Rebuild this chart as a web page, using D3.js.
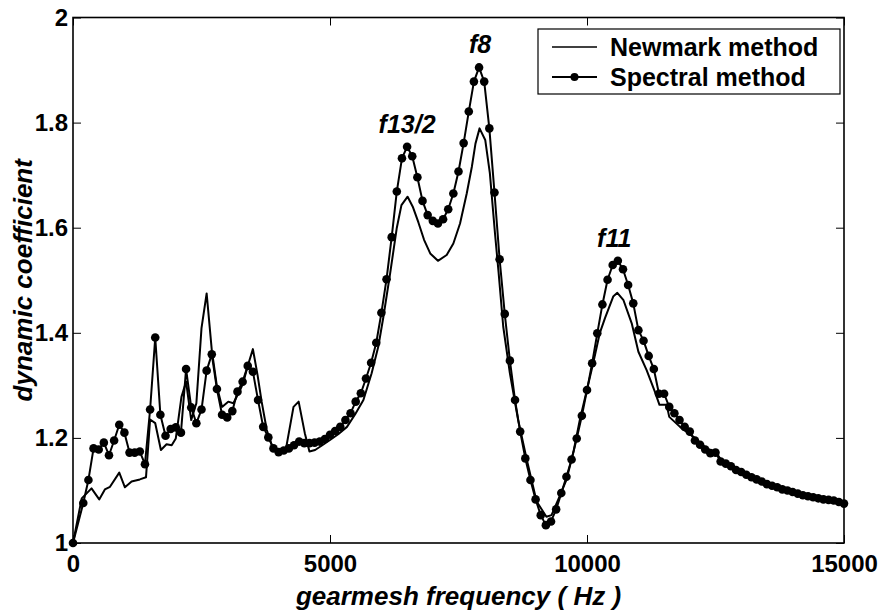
<!DOCTYPE html>
<meta charset="utf-8">
<body style="margin:0;background:#fff">
  <div id="chart"></div>
  <script src="https://d3js.org/d3.v7.min.js"></script>
  <script>
    // Spectral method (markers, 100 Hz grid)
    var specHz = [0, 200, 300, 400, 500, 600, 700, 800, 900, 1000,
      1100, 1200, 1300, 1400, 1500, 1600, 1700, 1800, 1900, 2000,
      2100, 2200, 2300, 2400, 2500, 2600, 2700, 2800, 2900, 3000,
      3100, 3200, 3300, 3400, 3500, 3600, 3700, 3800, 3900, 4000,
      4100, 4200, 4300, 4400, 4500, 4600, 4700, 4800, 4900, 5000,
      5100, 5200, 5300, 5400, 5500, 5600, 5700, 5800, 5900, 6000,
      6100, 6200, 6300, 6400, 6500, 6600, 6700, 6800, 6900, 7000,
      7100, 7200, 7300, 7400, 7500, 7600, 7700, 7800, 7900, 8000,
      8100, 8200, 8300, 8400, 8500, 8600, 8700, 8800, 8900, 9000,
      9100, 9200, 9300, 9400, 9500, 9600, 9700, 9800, 9900, 10000,
      10100, 10200, 10300, 10400, 10500, 10600, 10700, 10800, 10900, 11000,
      11100, 11200, 11300, 11400, 11500, 11600, 11700, 11800, 11900, 12000,
      12100, 12200, 12300, 12400, 12500, 12600, 12700, 12800, 12900, 13000,
      13100, 13200, 13300, 13400, 13500, 13600, 13700, 13800, 13900, 14000,
      14100, 14200, 14300, 14400, 14500, 14600, 14700, 14800, 14900, 15000];
    var specVal = [1.000, 1.076, 1.120, 1.180, 1.178, 1.191, 1.167, 1.195, 1.225, 1.210,
      1.172, 1.172, 1.174, 1.150, 1.254, 1.391, 1.244, 1.204, 1.217, 1.220,
      1.210, 1.331, 1.258, 1.228, 1.254, 1.328, 1.359, 1.293, 1.244, 1.239,
      1.251, 1.288, 1.307, 1.337, 1.326, 1.272, 1.221, 1.201, 1.180, 1.173,
      1.176, 1.180, 1.186, 1.193, 1.190, 1.190, 1.191, 1.193, 1.198, 1.206,
      1.213, 1.221, 1.234, 1.247, 1.269, 1.285, 1.313, 1.343, 1.381, 1.438,
      1.502, 1.582, 1.669, 1.732, 1.754, 1.736, 1.696, 1.651, 1.624, 1.613,
      1.608, 1.616, 1.635, 1.665, 1.707, 1.761, 1.821, 1.878, 1.905, 1.878,
      1.789, 1.667, 1.540, 1.436, 1.347, 1.272, 1.212, 1.161, 1.120, 1.083,
      1.053, 1.034, 1.041, 1.064, 1.095, 1.126, 1.159, 1.199, 1.242, 1.291,
      1.342, 1.399, 1.454, 1.501, 1.529, 1.537, 1.521, 1.491, 1.456, 1.405,
      1.385, 1.356, 1.331, 1.284, 1.284, 1.259, 1.247, 1.234, 1.221, 1.212,
      1.195, 1.187, 1.178, 1.171, 1.172, 1.155, 1.151, 1.146, 1.139, 1.135,
      1.130, 1.125, 1.121, 1.117, 1.112, 1.109, 1.106, 1.102, 1.100, 1.097,
      1.094, 1.091, 1.089, 1.087, 1.085, 1.083, 1.082, 1.081, 1.078, 1.075];

    // Newmark method (plain line)
    var newHz = [0, 170, 360, 510, 620, 720, 900, 1010, 1140, 1300,
      1420, 1500, 1600, 1710, 1820, 1920, 2000, 2110, 2200, 2300,
      2400, 2500, 2600, 2700, 2800, 2900, 3020, 3120, 3220, 3310,
      3390, 3500, 3590, 3670, 3770, 3900, 4030, 4150, 4290, 4390,
      4510, 4600, 4710, 4850, 5000, 5160, 5330, 5490, 5650, 5810,
      5940, 6040, 6170, 6300, 6390, 6510, 6610, 6720, 6830, 6950,
      7100, 7270, 7400, 7530, 7660, 7760, 7830, 7910, 8020, 8110,
      8210, 8280, 8370, 8500, 8660, 8830, 9020, 9210, 9310, 9450,
      9600, 9740, 9860, 10000, 10120, 10250, 10350, 10510, 10590, 10710,
      10870, 11000, 11160, 11320, 11410, 11550, 11600, 11810, 12070, 12330,
      12520, 12650, 13000, 13500, 14000, 14500, 15000];
    var newVal = [1.000, 1.085, 1.104, 1.083, 1.102, 1.107, 1.134, 1.106, 1.117, 1.121,
      1.125, 1.235, 1.228, 1.177, 1.188, 1.186, 1.199, 1.278, 1.307, 1.234,
      1.266, 1.409, 1.475, 1.367, 1.298, 1.259, 1.269, 1.266, 1.285, 1.304,
      1.334, 1.369, 1.320, 1.269, 1.215, 1.177, 1.171, 1.183, 1.259, 1.269,
      1.209, 1.174, 1.177, 1.186, 1.196, 1.207, 1.221, 1.245, 1.272, 1.323,
      1.374, 1.431, 1.513, 1.600, 1.643, 1.659, 1.640, 1.610, 1.577, 1.551,
      1.537, 1.548, 1.570, 1.608, 1.665, 1.716, 1.760, 1.789, 1.767, 1.704,
      1.589, 1.515, 1.412, 1.323, 1.234, 1.158, 1.079, 1.050, 1.053, 1.085,
      1.120, 1.175, 1.234, 1.292, 1.342, 1.400, 1.428, 1.469, 1.476, 1.462,
      1.418, 1.364, 1.329, 1.288, 1.263, 1.263, 1.240, 1.221, 1.202, 1.180,
      1.171, 1.152, 1.133, 1.110, 1.095, 1.084, 1.073];

    var xTicks = [0, 5000, 10000, 15000];
    var yTicks = [1, 1.2, 1.4, 1.6, 1.8, 2];
    var seriesNames = ["Newmark method", "Spectral method"];
    var peakLabels = ["f13/2", "f8", "f11"];
    var peakHz = [6500, 7920, 10530];
    var peakVal = [1.78, 1.932, 1.563];

    var margin = {top: 17.5, right: 37, bottom: 69, left: 73},
      width = 881 - margin.left - margin.right,
      height = 612 - margin.top - margin.bottom;

    var font = "'Liberation Sans', Arial, Helvetica, sans-serif";

    var x = d3.scaleLinear().domain([0, 15000]).range([0, width]);
    var y = d3.scaleLinear().domain([1, 2]).range([height, 0]);

    var svg = d3.select("#chart").append("svg")
      .attr("width", 881)
      .attr("height", 612)
      .append("g")
      .attr("transform", "translate(" + margin.left + "," + margin.top + ")");

    // axes, ticks pointing inward on all four sides
    var gx = svg.append("g")
      .attr("transform", "translate(0," + height + ")")
      .call(d3.axisBottom(x).tickValues(xTicks).tickSize(-8).tickPadding(12).tickFormat(d3.format("d")));
    var gy = svg.append("g")
      .call(d3.axisLeft(y).tickValues(yTicks).tickSize(-8).tickPadding(5).tickFormat(function(d) { return d3.format("")(+d.toFixed(1)); }));
    var gt = svg.append("g")
      .call(d3.axisTop(x).tickValues(xTicks).tickSize(-8).tickFormat(""));
    var gr = svg.append("g")
      .attr("transform", "translate(" + width + ",0)")
      .call(d3.axisRight(y).tickValues(yTicks).tickSize(-8).tickFormat(""));

    [gx, gy, gt, gr].forEach(function(g) {
      g.select(".domain").remove();
      g.selectAll(".tick line").attr("stroke", "#000").attr("stroke-width", 1);
      g.selectAll("text")
        .style("font-family", font)
        .style("font-weight", "bold")
        .style("font-size", "24px")
        .attr("fill", "#000");
    });

    var line = d3.line()
      .x(function(d) { return x(d[0]); })
      .y(function(d) { return y(d[1]); });

    var newData = newHz.map(function(h, i) { return [h, newVal[i]]; });
    var specData = specHz.map(function(h, i) { return [h, specVal[i]]; });

    svg.append("path")
      .datum(newData)
      .attr("d", line)
      .attr("fill", "none")
      .attr("stroke", "#000")
      .attr("stroke-width", 2)
      .attr("stroke-linejoin", "round");

    svg.append("path")
      .datum(specData)
      .attr("d", line)
      .attr("fill", "none")
      .attr("stroke", "#000")
      .attr("stroke-width", 2)
      .attr("stroke-linejoin", "round");

    svg.selectAll(".dot")
      .data(specData)
      .enter().append("circle")
      .attr("class", "dot")
      .attr("cx", function(d) { return x(d[0]); })
      .attr("cy", function(d) { return y(d[1]); })
      .attr("r", 4.3)
      .attr("fill", "#000");

    // frame
    svg.append("rect")
      .attr("width", width)
      .attr("height", height)
      .attr("fill", "none")
      .attr("stroke", "#000")
      .attr("stroke-width", 1.6);

    // peak labels
    svg.selectAll(".peak")
      .data(peakLabels)
      .enter().append("text")
      .attr("x", function(d, i) { return x(peakHz[i]); })
      .attr("y", function(d, i) { return y(peakVal[i]); })
      .attr("text-anchor", "middle")
      .style("font-family", font)
      .style("font-weight", "bold")
      .style("font-style", "italic")
      .style("font-size", "25px")
      .text(function(d) { return d; });

    // axis titles
    svg.append("text")
      .attr("x", width / 2)
      .attr("y", height + 62)
      .attr("text-anchor", "middle")
      .style("font-family", font)
      .style("font-weight", "bold")
      .style("font-style", "italic")
      .style("font-size", "26px")
      .text("gearmesh frequency ( Hz )");

    svg.append("text")
      .attr("transform", "translate(-41," + height / 2 + ") rotate(-90)")
      .attr("text-anchor", "middle")
      .style("font-family", font)
      .style("font-weight", "bold")
      .style("font-style", "italic")
      .style("font-size", "26px")
      .text("dynamic coefficient");

    // legend
    var lg = svg.append("g").attr("transform", "translate(465,11.5)");
    lg.append("rect")
      .attr("width", 302)
      .attr("height", 65)
      .attr("fill", "#fff")
      .attr("stroke", "#000")
      .attr("stroke-width", 1.2);
    seriesNames.forEach(function(name, i) {
      var ly = 18 + i * 30;
      lg.append("line")
        .attr("x1", 14).attr("x2", 59)
        .attr("y1", ly).attr("y2", ly)
        .attr("stroke", "#000")
        .attr("stroke-width", i === 0 ? 1.3 : 2);
      if (i === 1) {
        lg.append("circle").attr("cx", 36.5).attr("cy", ly).attr("r", 4).attr("fill", "#000");
      }
      lg.append("text")
        .attr("x", 72)
        .attr("y", ly + 8.5)
        .style("font-family", font)
        .style("font-weight", "bold")
        .style("font-size", "25px")
        .text(name);
    });
  </script>
</body>
